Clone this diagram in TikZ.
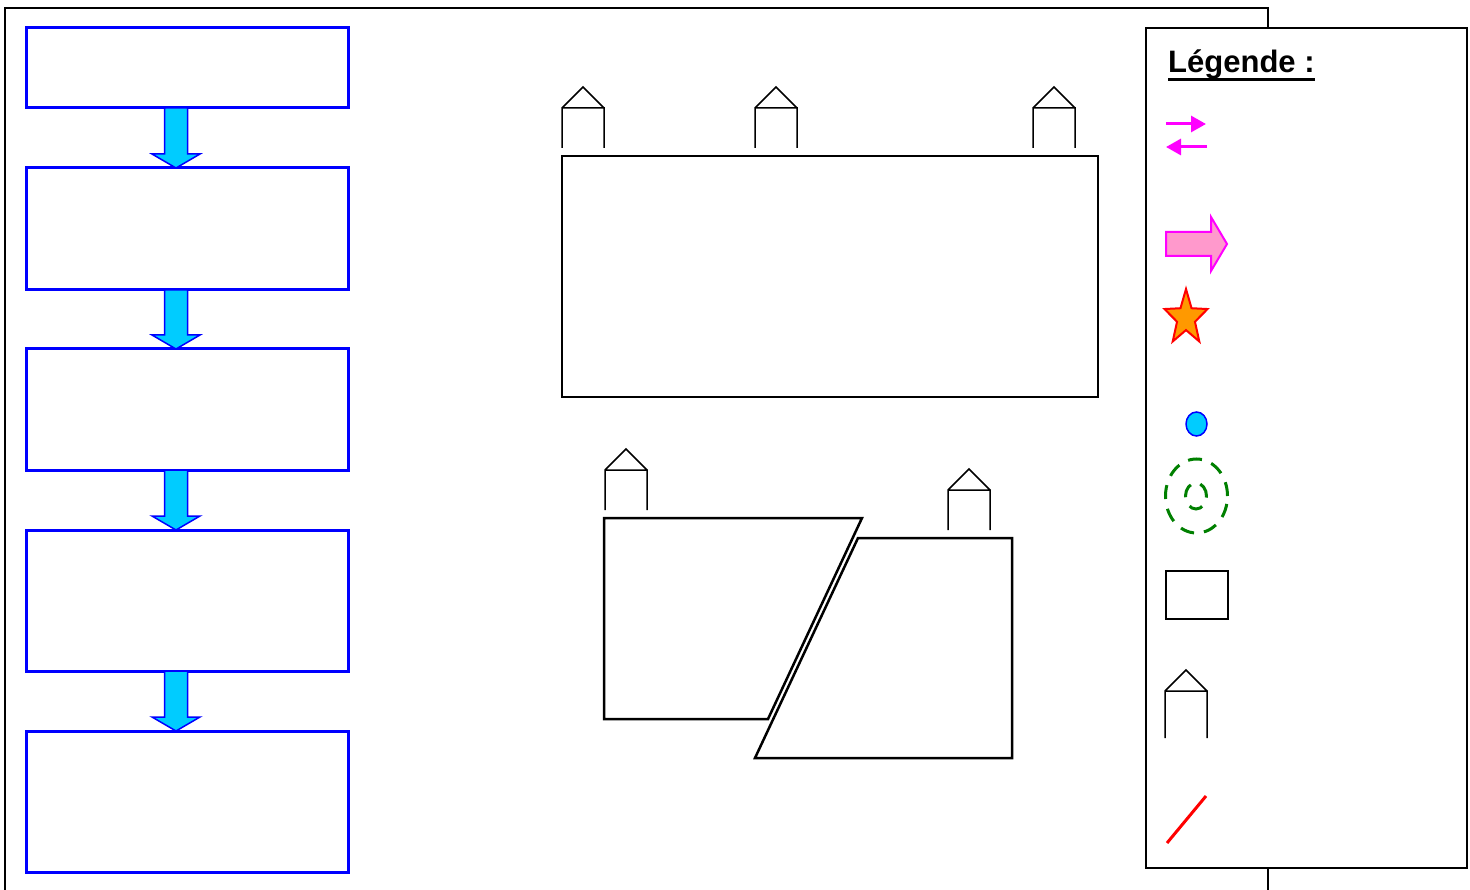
\documentclass[tikz,border=0pt]{standalone}
\usepackage{fontspec}
\setmainfont{Liberation Sans}
\usepackage{xcolor}
\usetikzlibrary{positioning,shapes,arrows,arrows.meta,calc}

\definecolor{boxblue}{RGB}{0,0,255}
\definecolor{arrowcyan}{RGB}{0,204,255}
\definecolor{legmagenta}{RGB}{255,0,255}
\definecolor{legpink}{RGB}{255,153,204}
\definecolor{starorange}{RGB}{255,153,0}
\definecolor{ringgreen}{RGB}{0,128,0}

\begin{document}
\begin{tikzpicture}[
    x=1pt, y=-1pt,
    node distance=60pt,
    stepbox/.style={rectangle, draw=boxblue, line width=3pt, minimum width=322pt, inner sep=0pt, outer sep=0pt},
    downarrow/.style={draw=boxblue, line width=1.5pt, fill=arrowcyan, line join=miter},
    plan/.style={draw, line width=2.5pt, line join=miter, outer sep=0pt, inner sep=0pt},
    frame/.style={draw, line width=2pt},
    legendbox/.style={rectangle, draw, line width=2pt, fill=white, minimum width=321pt, minimum height=840pt, outer sep=0pt},
    pinkarrow/.style={-{Triangle[length=15pt,width=16pt]}, legmagenta, line width=3pt},
    blockarrow/.style={draw=legmagenta, line width=2pt, fill=legpink, line join=miter},
    legstar/.style={star, star points=5, star point ratio=2.4, minimum size=58pt, inner sep=0pt, draw=red, fill=starorange, line width=2pt, xscale=0.78},
    dot/.style={ellipse, draw=boxblue, line width=1.5pt, fill=arrowcyan, minimum width=21pt, minimum height=24pt, inner sep=0pt},
    ring/.style={ellipse, draw=ringgreen, line width=3pt, dash pattern=on 14pt off 10pt, inner sep=0pt},
    legbox/.style={rectangle, draw, line width=2.5pt, minimum width=62pt, minimum height=48pt, inner sep=0pt},
    redline/.style={red, line width=3pt},
    towerline/.style={line width=1.5pt, line join=miter},
    pics/tower/.style={code={
        \draw[towerline] (-21,#1) -- (-21,0) -- (21,0) -- (21,#1) (-21,0) -- (0,-21) -- (21,0);
    }},
]
\useasboundingbox (0,0) rectangle (1470,890);
\draw[frame] (5,890) -- (5,8) -- (1268,8) -- (1268,890);

\node[stepbox, minimum height=80pt] (b1) at (187,68) {};
\node[stepbox, minimum height=122pt, below=of b1] (b2) {};
\node[stepbox, minimum height=121pt, below=59pt of b2] (b3) {};
\node[stepbox, minimum height=141pt, below=of b3] (b4) {};
\node[stepbox, minimum height=141pt, below=of b4] (b5) {};
\foreach \i/\j in {1/2,2/3,3/4,4/5}
    \draw[downarrow] ($(b\i.south)+(-22.5,0)$) -- ($(b\j.north)+(-22.5,-14)$) -- ($(b\j.north)+(-35,-14)$)
        -- ($(b\j.north)+(-11,0)$) -- ($(b\j.north)+(13,-14)$) -- ($(b\j.north)+(0.5,-14)$) -- ($(b\i.south)+(0.5,0)$) -- cycle;

\node[plan, minimum width=536pt, minimum height=241pt] (hall) at (830,276.5) {};
\pic at (583,108) {tower=40};
\pic at (776,108) {tower=40};
\pic at (1054,108) {tower=40};

\draw[plan] (604,518) -- (862,518) -- (768,719) -- (604,719) -- cycle;
\draw[plan] (858,538) -- (1012,538) -- (1012,758) -- (755,758) -- cycle;
\pic at (626,470) {tower=40};
\pic at (969,490) {tower=40};

\node[legendbox] (legend) at (1306.5,448) {};
\node[anchor=base west, inner sep=0pt, font=\fontsize{31}{36}\selectfont\bfseries] (title) at (1168,73) {Légende :};
\draw[line width=3pt] ([yshift=-7pt]title.base west) -- ([yshift=-7pt]title.base east);

\coordinate (r1) at (1166,124);
\coordinate (r2) at (1206,124);
\coordinate (l1) at (1207,147);
\coordinate (l2) at (1166,147);
\draw[pinkarrow] (r1) -- (r2);
\draw[pinkarrow] (l1) -- (l2);

\draw[blockarrow] (1166,232) -- (1211,232) -- (1211,217) -- (1227,244) -- (1211,271) -- (1211,256) -- (1166,256) -- cycle;
\node[legstar] (star) at (1186,318) {};
\node[dot] (drop) at (1196.5,424) {};
\node[ring, minimum width=62pt, minimum height=74pt] (ringout) at (1196.5,496) {};
\node[ring, minimum width=21pt, minimum height=26pt] (ringin) at (1196,496) {};
\node[legbox] (legrect) at (1197,595) {};
\pic at (1186,691) {tower=47};
\coordinate (s1) at (1167,843);
\coordinate (s2) at (1206,796);
\draw[redline] (s1) -- (s2);
\end{tikzpicture}
\end{document}
